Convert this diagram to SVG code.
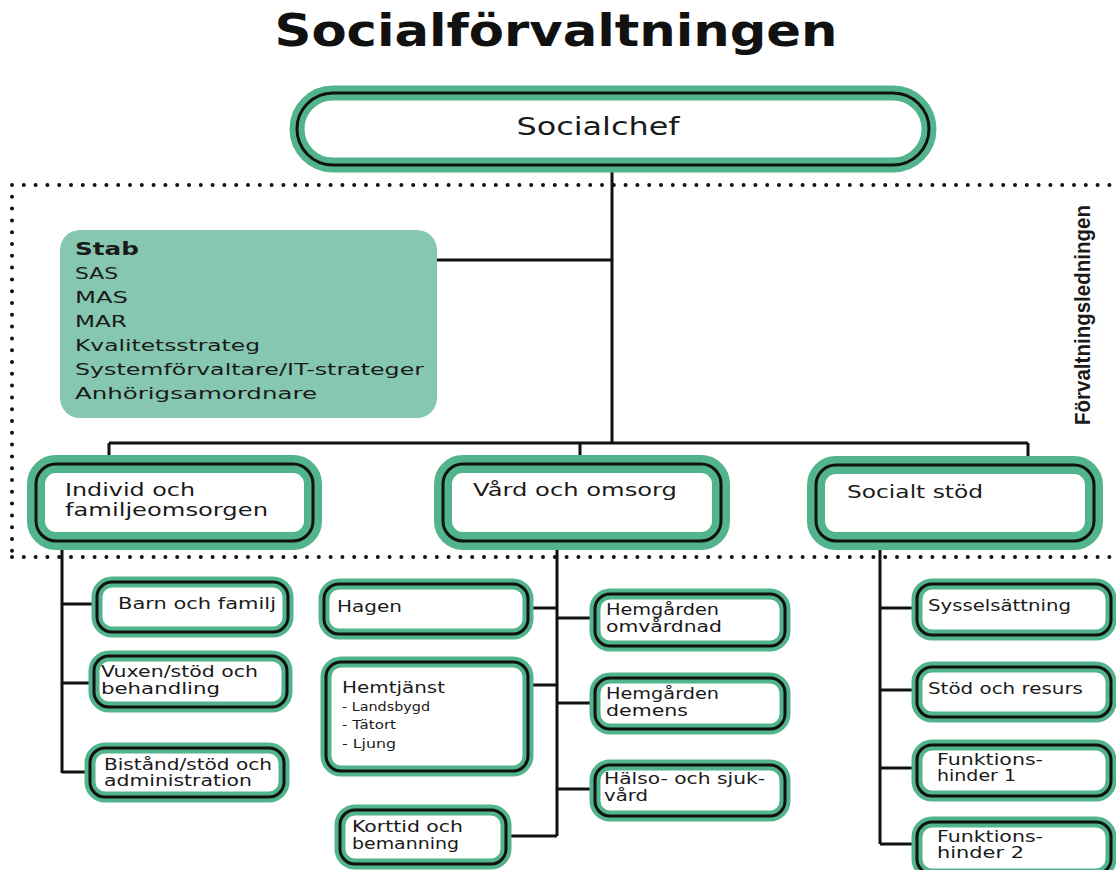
<svg xmlns="http://www.w3.org/2000/svg" width="1116" height="870" viewBox="0 0 1116 870">
<style>
text{font-family:"DejaVu Sans","Liberation Sans",sans-serif;fill:#1a1a1a}
.title{font-size:44px;font-weight:bold;fill:#111}
.halo{fill:#fff;stroke:#52b48c}
.frame{fill:none;stroke:#111;stroke-width:3}
.big .halo{stroke-width:18}
.small .halo{stroke-width:11}
.lbl{font-size:18px}
.sl{font-size:15px}
.xs{font-size:12px}
.stab{font-size:16.5px}
.conn{fill:none;stroke:#111;stroke-width:3}
.dots{fill:none;stroke:#111;stroke-width:4;stroke-linecap:round;stroke-dasharray:0 11.8}
</style>
<rect width="1116" height="870" fill="#fff"/>
<text class="title" x="556" y="46" text-anchor="middle" textLength="563" lengthAdjust="spacingAndGlyphs">Socialförvaltningen</text>

<g id="boundary">
<path class="dots" d="M12 185 H1116 M12 185 V557 M12 557 H1116"/>
<text x="0" y="0" transform="translate(1090 315) rotate(-90)" text-anchor="middle" style="font-family:'Liberation Sans',sans-serif;font-weight:bold;font-size:22px" textLength="220" lengthAdjust="spacingAndGlyphs">Förvaltningsledningen</text>
</g>

<g id="connectors">
<path class="conn" d="M612 168 V443 M437 260 H612 M109 443 H1028 M109 443 V462 M580 443 V462 M1028 443 V462"/>
<path class="conn" d="M62 541 V773 M62 604 H97 M62 683 H95 M62 772 H90"/>
<path class="conn" d="M557 541 V836 M528 608 H557 M528 685 H557 M505 836 H557 M557 618 H595 M557 703 H595 M557 789 H595"/>
<path class="conn" d="M880 541 V844 M880 608 H917 M880 690 H917 M880 768 H917 M880 844 H917"/>
</g>

<g id="socialchef" class="big">
<rect class="halo" x="297" y="93" width="632" height="72" rx="36" style="stroke-width:15"/>
<rect class="frame" x="297" y="93" width="632" height="72" rx="36"/>
<text class="lbl" x="598" y="135" text-anchor="middle" style="font-size:24px" textLength="163" lengthAdjust="spacingAndGlyphs">Socialchef</text>
</g>

<g id="stab">
<rect x="60" y="230" width="377" height="188" rx="20" fill="#86c7b1"/>
<text class="stab" x="75" y="255" style="font-weight:bold;font-size:18px" textLength="64" lengthAdjust="spacingAndGlyphs">Stab</text>
<text class="stab" x="75" y="279" textLength="43" lengthAdjust="spacingAndGlyphs">SAS</text>
<text class="stab" x="75" y="303" textLength="53" lengthAdjust="spacingAndGlyphs">MAS</text>
<text class="stab" x="75" y="327" textLength="52" lengthAdjust="spacingAndGlyphs">MAR</text>
<text class="stab" x="75" y="351" textLength="185" lengthAdjust="spacingAndGlyphs">Kvalitetsstrateg</text>
<text class="stab" x="75" y="375" textLength="349" lengthAdjust="spacingAndGlyphs">Systemförvaltare/IT-strateger</text>
<text class="stab" x="75" y="399" textLength="242" lengthAdjust="spacingAndGlyphs">Anhörigsamordnare</text>
</g>

<g id="individ" class="big">
<rect class="halo" x="36" y="464" width="277" height="77" rx="20"/>
<rect class="frame" x="36" y="464" width="277" height="77" rx="20"/>
<text class="lbl" x="65" y="496" textLength="130" lengthAdjust="spacingAndGlyphs">Individ och</text>
<text class="lbl" x="65" y="516" textLength="203" lengthAdjust="spacingAndGlyphs">familjeomsorgen</text>
</g>
<g id="vard" class="big">
<rect class="halo" x="443" y="464" width="278" height="77" rx="20"/>
<rect class="frame" x="443" y="464" width="278" height="77" rx="20"/>
<text class="lbl" x="473" y="496" textLength="204" lengthAdjust="spacingAndGlyphs">Vård och omsorg</text>
</g>
<g id="socialt" class="big">
<rect class="halo" x="816" y="465" width="278" height="76" rx="20"/>
<rect class="frame" x="816" y="465" width="278" height="76" rx="20"/>
<text class="lbl" x="847" y="498" textLength="136" lengthAdjust="spacingAndGlyphs">Socialt stöd</text>
</g>

<g id="barn" class="small">
<rect class="halo" x="97" y="582" width="191" height="50" rx="15"/>
<rect class="frame" x="97" y="582" width="191" height="50" rx="15"/>
<text class="sl" x="118" y="609" textLength="158" lengthAdjust="spacingAndGlyphs">Barn och familj</text>
</g>
<g id="vuxen" class="small">
<rect class="halo" x="94" y="656" width="193" height="51" rx="15"/>
<rect class="frame" x="94" y="656" width="193" height="51" rx="15"/>
<text class="sl" x="101" y="677" textLength="157" lengthAdjust="spacingAndGlyphs">Vuxen/stöd och</text>
<text class="sl" x="101" y="694" textLength="119" lengthAdjust="spacingAndGlyphs">behandling</text>
</g>
<g id="bistand" class="small">
<rect class="halo" x="90" y="748" width="194" height="49" rx="15"/>
<rect class="frame" x="90" y="748" width="194" height="49" rx="15"/>
<text class="sl" x="104" y="770" textLength="168" lengthAdjust="spacingAndGlyphs">Bistånd/stöd och</text>
<text class="sl" x="104" y="786" textLength="148" lengthAdjust="spacingAndGlyphs">administration</text>
</g>

<g id="hagen" class="small">
<rect class="halo" x="324" y="584" width="204" height="50" rx="15"/>
<rect class="frame" x="324" y="584" width="204" height="50" rx="15"/>
<text class="sl" x="337" y="612" textLength="65" lengthAdjust="spacingAndGlyphs">Hagen</text>
</g>
<g id="hemtjanst" class="small">
<rect class="halo" x="326" y="662" width="202" height="109" rx="15"/>
<rect class="frame" x="326" y="662" width="202" height="109" rx="15"/>
<text class="sl" x="342" y="693" style="font-size:16px" textLength="103" lengthAdjust="spacingAndGlyphs">Hemtjänst</text>
<text class="xs" x="342" y="711" textLength="88" lengthAdjust="spacingAndGlyphs">- Landsbygd</text>
<text class="xs" x="342" y="729" textLength="54" lengthAdjust="spacingAndGlyphs">- Tätort</text>
<text class="xs" x="342" y="748" textLength="54" lengthAdjust="spacingAndGlyphs">- Ljung</text>
</g>
<g id="korttid" class="small">
<rect class="halo" x="340" y="810" width="166" height="54" rx="15"/>
<rect class="frame" x="340" y="810" width="166" height="54" rx="15"/>
<text class="sl" x="352" y="832" textLength="111" lengthAdjust="spacingAndGlyphs">Korttid och</text>
<text class="sl" x="352" y="849" textLength="107" lengthAdjust="spacingAndGlyphs">bemanning</text>
</g>

<g id="hemgarden-omv" class="small">
<rect class="halo" x="595" y="594" width="190" height="52" rx="15"/>
<rect class="frame" x="595" y="594" width="190" height="52" rx="15"/>
<text class="sl" x="606" y="615" textLength="113" lengthAdjust="spacingAndGlyphs">Hemgården</text>
<text class="sl" x="606" y="632" textLength="116" lengthAdjust="spacingAndGlyphs">omvårdnad</text>
</g>
<g id="hemgarden-dem" class="small">
<rect class="halo" x="595" y="678" width="190" height="51" rx="15"/>
<rect class="frame" x="595" y="678" width="190" height="51" rx="15"/>
<text class="sl" x="606" y="699" textLength="113" lengthAdjust="spacingAndGlyphs">Hemgården</text>
<text class="sl" x="606" y="716" textLength="82" lengthAdjust="spacingAndGlyphs">demens</text>
</g>
<g id="halso" class="small">
<rect class="halo" x="595" y="765" width="190" height="51" rx="15"/>
<rect class="frame" x="595" y="765" width="190" height="51" rx="15"/>
<text class="sl" x="604" y="784" textLength="161" lengthAdjust="spacingAndGlyphs">Hälso- och sjuk-</text>
<text class="sl" x="604" y="801" textLength="44" lengthAdjust="spacingAndGlyphs">vård</text>
</g>

<g id="syssel" class="small">
<rect class="halo" x="917" y="584" width="194" height="51" rx="15"/>
<rect class="frame" x="917" y="584" width="194" height="51" rx="15"/>
<text class="sl" x="928" y="611" textLength="143" lengthAdjust="spacingAndGlyphs">Sysselsättning</text>
</g>
<g id="stod" class="small">
<rect class="halo" x="917" y="667" width="194" height="50" rx="15"/>
<rect class="frame" x="917" y="667" width="194" height="50" rx="15"/>
<text class="sl" x="928" y="694" textLength="155" lengthAdjust="spacingAndGlyphs">Stöd och resurs</text>
</g>
<g id="funk1" class="small">
<rect class="halo" x="917" y="745" width="194" height="51" rx="15"/>
<rect class="frame" x="917" y="745" width="194" height="51" rx="15"/>
<text class="sl" x="937" y="765" textLength="106" lengthAdjust="spacingAndGlyphs">Funktions-</text>
<text class="sl" x="937" y="781" textLength="79" lengthAdjust="spacingAndGlyphs">hinder 1</text>
</g>
<g id="funk2" class="small">
<rect class="halo" x="917" y="822" width="194" height="52" rx="15"/>
<rect class="frame" x="917" y="822" width="194" height="52" rx="15"/>
<text class="sl" x="937" y="842" textLength="106" lengthAdjust="spacingAndGlyphs">Funktions-</text>
<text class="sl" x="937" y="858" textLength="87" lengthAdjust="spacingAndGlyphs">hinder 2</text>
</g>
</svg>
